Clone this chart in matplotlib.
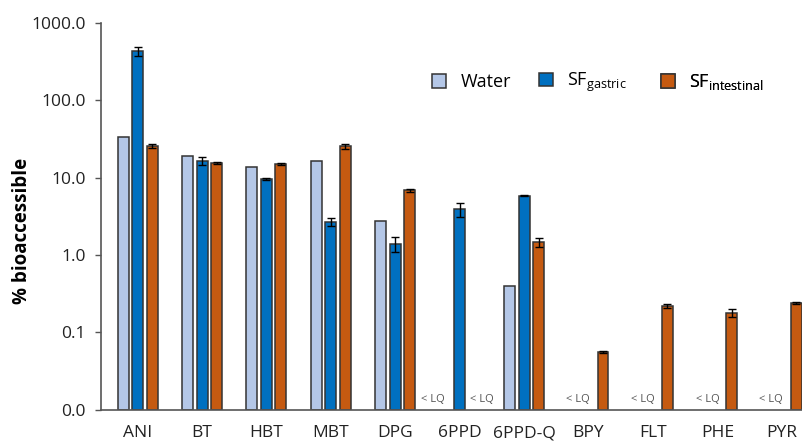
import numpy as np
import matplotlib
matplotlib.use("Agg")
import matplotlib.pyplot as plt
from matplotlib.patches import Patch
from matplotlib.ticker import FixedLocator, FuncFormatter

plt.rcParams['font.family'] = ['Open Sans', 'DejaVu Sans']

categories = ["ANI", "BT", "HBT", "MBT", "DPG", "6PPD", "6PPD-Q", "BPY", "FLT", "PHE", "PYR"]
nan = np.nan
water = [34, 19, 13.7, 16.3, 2.75, nan, 0.40, nan, nan, nan, nan]
gastric = [430, 16.5, 9.6, 2.7, 1.4, 3.9, 5.9, nan, nan, nan, nan]
gastric_err = [60, 2.0, 0.2, 0.3, 0.3, 0.8, 0.1, nan, nan, nan, nan]
intestinal = [26, 15.7, 15.0, 25.6, 6.9, nan, 1.46, 0.056, 0.22, 0.18, 0.24]
intestinal_err = [1.5, 0.5, 0.3, 2.0, 0.3, nan, 0.2, 0.002, 0.01, 0.02, 0.005]
ytick_vals = [0.01, 0.1, 1, 10, 100, 1000]
series_labels = ["Water", r"SF$_{\mathregular{gastric}}$", r"SF$_{\mathregular{intestinal}}$"]
# "< LQ" annotations: (category index, offset)
lq_marks = [(5, -0.42), (5, 0.35), (7, -0.17), (8, -0.16), (9, -0.15), (10, -0.17)]

c_water = "#B4C7E7"
c_gastric = "#0070C0"
c_int = "#C55A11"
edge = "#333333"

fig = plt.figure(figsize=(8.03, 4.44), dpi=100)
ax = fig.add_axes([0.126, 0.077, 0.874, 0.871])

x = np.arange(len(categories))
w = 0.17
off = 0.225
base = ytick_vals[0]
ek = dict(ecolor="black", elinewidth=1, capsize=3, capthick=1)

ax.bar(x - off, np.array(water) - base, w, bottom=base, color=c_water, edgecolor=edge, linewidth=1.1, zorder=2)
ax.bar(x, np.array(gastric) - base, w, bottom=base, color=c_gastric, edgecolor=edge, linewidth=1.1,
       yerr=gastric_err, error_kw=ek, zorder=2)
ax.bar(x + off, np.array(intestinal) - base, w, bottom=base, color=c_int, edgecolor=edge, linewidth=1.1,
       yerr=intestinal_err, error_kw=ek, zorder=2)

ax.set_yscale("log")
ax.set_ylim(ytick_vals[0], ytick_vals[-1])
ax.set_xlim(-0.566, 10.33)
ax.yaxis.set_major_locator(FixedLocator(ytick_vals))
ax.yaxis.set_minor_locator(FixedLocator([]))
ax.yaxis.set_major_formatter(FuncFormatter(lambda v, p: "0.0" if v < 0.05 else f"{v:.1f}"))
ax.set_xticks(x)
ax.set_xticklabels(categories)
ax.tick_params(axis="x", length=0, pad=11, labelsize=12.5, colors="#222222")
ax.tick_params(axis="y", length=4, width=1, color="#555555", labelsize=12.5, labelcolor="#222222", pad=7)

for s in ["top", "right"]:
    ax.spines[s].set_visible(False)
for s in ["left", "bottom"]:
    ax.spines[s].set_color("#555555")
    ax.spines[s].set_linewidth(1.2)

ax.set_ylabel("% bioaccessible", fontsize=13.5, fontweight="bold")
ax.yaxis.set_label_coords(-0.099, 0.462)

for i, o in lq_marks:
    ax.text(i + o, 0.0115, "< LQ", fontsize=8, color="#555555", ha="center", va="bottom")

colors = [c_water, c_gastric, c_int]
leg_x = [0.472, 0.624, 0.798]
for lx, col, lab in zip(leg_x, colors, series_labels):
    lg = ax.legend([Patch(facecolor=col, edgecolor=edge, linewidth=1.1)], [lab], frameon=False,
                   loc="center left", bbox_to_anchor=(lx, 0.847), fontsize=13,
                   handlelength=0.75, handleheight=0.75, handletextpad=0.8, borderpad=0, borderaxespad=0)
    ax.add_artist(lg)

fig.savefig("out.png", dpi=100)
